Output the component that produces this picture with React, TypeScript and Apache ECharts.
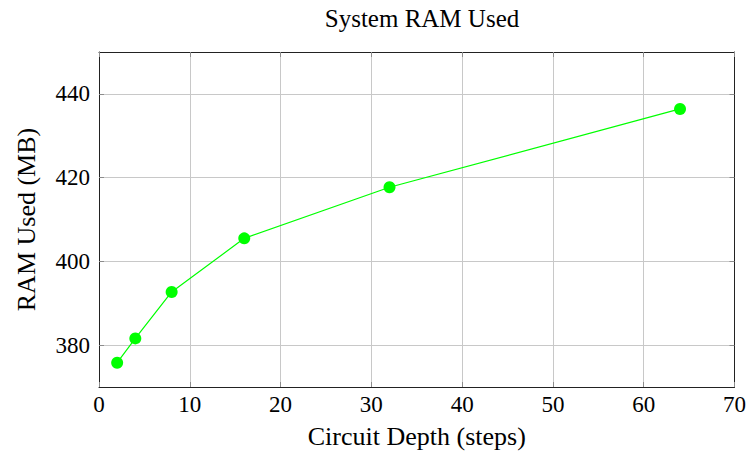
import React, { useEffect, useRef } from "react";
import * as echarts from "echarts";

const depths = [2, 4, 8, 16, 32, 64];
const ramUsed = [375.8, 381.6, 392.7, 405.5, 417.7, 436.4];
const yTicks = [380, 400, 420, 440];
const chartTitle = "System RAM Used";
const xName = "Circuit Depth (steps)";
const yName = "RAM Used (MB)";

const FONT = "'Liberation Serif', 'DejaVu Serif', serif";

export default function App() {
  const ref = useRef<HTMLDivElement>(null);
  useEffect(() => {
    const chart = echarts.init(ref.current!, undefined, { renderer: "svg" });
    const tickStyle = { show: true, inside: true, length: 5, lineStyle: { color: "#8c8c8c", width: 1 } };
    const lineStyleAxis = { show: true, onZero: false, lineStyle: { color: "#222", width: 1 } };
    chart.setOption({
      animation: false,
      backgroundColor: "#fff",
      title: {
        text: chartTitle,
        left: 417,
        top: 1,
        textAlign: "center",
        textStyle: { fontFamily: FONT, fontWeight: "normal", fontSize: 25, color: "#000" },
      },
      grid: { left: 99, right: 13, top: 52, bottom: 68, containLabel: false },
      xAxis: [
        {
          type: "value",
          min: 0,
          max: 70,
          interval: 10,
          name: xName,
          nameLocation: "middle",
          nameGap: 36,
          nameTextStyle: { fontFamily: FONT, fontSize: 26, color: "#000" },
          axisLine: lineStyleAxis,
          axisTick: tickStyle,
          axisLabel: { fontFamily: FONT, fontSize: 23, color: "#000", margin: 6 },
          splitLine: { show: true, lineStyle: { color: "#c8c8c8", width: 1 } },
        },
        {
          type: "value",
          position: "top",
          min: 0,
          max: 70,
          interval: 10,
          axisLine: lineStyleAxis,
          axisTick: tickStyle,
          axisLabel: { show: false },
          splitLine: { show: false },
        },
      ],
      yAxis: [
        {
          type: "value",
          min: 370,
          max: 450,
          name: yName,
          nameLocation: "middle",
          nameGap: 60,
          nameTextStyle: { fontFamily: FONT, fontSize: 26, color: "#000" },
          axisLine: lineStyleAxis,
          axisTick: { ...tickStyle, customValues: yTicks },
          axisLabel: {
            fontFamily: FONT,
            fontSize: 23,
            color: "#000",
            margin: 9,
            customValues: yTicks,
          },
          splitLine: { show: true, lineStyle: { color: "#c8c8c8", width: 1 } },
        },
        {
          type: "value",
          position: "right",
          min: 370,
          max: 450,
          axisLine: lineStyleAxis,
          axisTick: { ...tickStyle, customValues: yTicks },
          axisLabel: { show: false, customValues: yTicks },
          splitLine: { show: false },
        },
      ],
      series: [
        {
          type: "line",
          data: depths.map((d, i) => [d, ramUsed[i]]),
          symbol: "circle",
          symbolSize: 12,
          lineStyle: { color: "#00ff00", width: 1.2 },
          itemStyle: { color: "#00ff00" },
        },
      ],
    });
    return () => chart.dispose();
  }, []);
  return <div ref={ref} style={{ width: 749, height: 455, position: "absolute", left: 0, top: 0 }} />;
}
